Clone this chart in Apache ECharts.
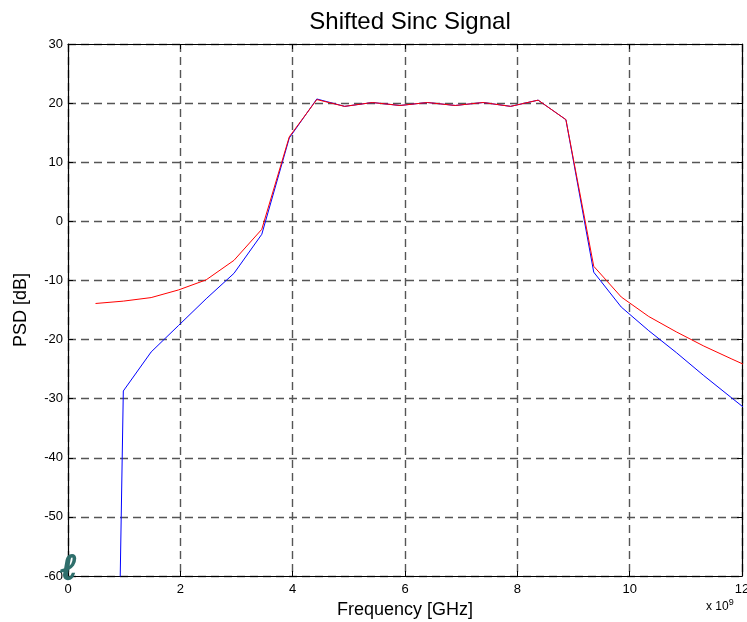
<!DOCTYPE html>
<html>
<head>
<meta charset="utf-8">
<script src="https://cdn.jsdelivr.net/npm/echarts@6/dist/echarts.min.js"></script>
<style>
  html, body { margin: 0; padding: 0; background: #fff; }
  #chart { width: 747px; height: 622px; }
</style>
</head>
<body>
<div id="chart"></div>
<script>
// frequency in units of 1e9 Hz
const freqs = [0.49, 0.985, 1.48, 1.97, 2.46, 2.955, 3.45, 3.94, 4.43, 4.925, 5.42, 5.91, 6.40,
  6.895, 7.39, 7.88, 8.37, 8.865, 9.36, 9.85, 10.34, 10.83, 11.32, 11.82, 12.31]

const redPsd = [-13.9, -13.5, -12.9, -11.6, -9.9, -6.6, -1.35, 14.3, 20.6, 19.45, 20.1, 19.6, 20.1,
  19.6, 20.1, 19.45, 20.5, 17.2, -7.6, -12.8, -16.1, -18.7, -21.1, -23.3, -25.4]

const bluePsd = [-310, -28.7, -22.1, -17.6, -13.1, -8.8, -2.2, 14.1, 20.7, 19.45, 20.1, 19.6, 20.1,
  19.6, 20.1, 19.45, 20.5, 17.2, -8.6, -14.5, -18.5, -22.2, -26.1, -29.9, -33.6]

const xTicks = [0, 2, 4, 6, 8, 10, 12]
const yTicks = [-60, -50, -40, -30, -20, -10, 0, 10, 20, 30]

const font = 'Liberation Sans, Arial, sans-serif'
const pair = (ys) => freqs.map((f, i) => [f, ys[i]])

const chart = echarts.init(document.getElementById('chart'))

const gridLine = { show: true, lineStyle: { color: '#555', width: 1.4, type: [8, 5] } }
const boxLine = { show: true, onZero: false, lineStyle: { color: '#000', width: 1.2 } }
const inTick = { show: true, inside: true, length: 5, lineStyle: { color: '#000' } }

const option = {
  animation: false,
  backgroundColor: '#fff',
  title: {
    text: 'Shifted Sinc Signal',
    left: 405,
    textAlign: 'center',
    top: 5,
    textStyle: { fontFamily: font, fontSize: 24, fontWeight: 'normal', color: '#000' }
  },
  grid: { left: 68, right: 5, top: 44, bottom: 46, outerBoundsMode: 'none' },
  xAxis: [
    {
      type: 'value',
      min: xTicks[0],
      max: xTicks[xTicks.length - 1],
      interval: 2,
      name: 'Frequency [GHz]',
      nameLocation: 'middle',
      nameGap: 24,
      nameTextStyle: { fontFamily: font, fontSize: 18, color: '#000' },
      axisLine: boxLine,
      axisTick: inTick,
      axisLabel: { fontFamily: font, fontSize: 13, color: '#000', margin: 7 },
      splitLine: gridLine
    },
    {
      type: 'value',
      position: 'top',
      min: xTicks[0],
      max: xTicks[xTicks.length - 1],
      interval: 2,
      axisLine: boxLine,
      axisTick: inTick,
      axisLabel: { show: false },
      splitLine: { show: false }
    }
  ],
  yAxis: [
    {
      type: 'value',
      min: yTicks[0],
      max: yTicks[yTicks.length - 1],
      interval: 10,
      name: 'PSD [dB]',
      nameLocation: 'middle',
      nameGap: 38,
      nameTextStyle: { fontFamily: font, fontSize: 18, color: '#000' },
      axisLine: boxLine,
      axisTick: inTick,
      axisLabel: { fontFamily: font, fontSize: 13, color: '#000', margin: 5 },
      splitLine: gridLine
    },
    {
      type: 'value',
      position: 'right',
      min: yTicks[0],
      max: yTicks[yTicks.length - 1],
      interval: 10,
      axisLine: boxLine,
      axisTick: inTick,
      axisLabel: { show: false },
      splitLine: { show: false }
    }
  ],
  series: [
    {
      type: 'line',
      data: pair(bluePsd),
      showSymbol: false,
      clip: true,
      lineStyle: { color: '#0000ff', width: 1 },
      z: 3
    },
    {
      type: 'line',
      data: pair(redPsd),
      showSymbol: false,
      clip: true,
      lineStyle: { color: '#ff0000', width: 1 },
      z: 4
    }
  ],
  graphic: [
    {
      type: 'text',
      left: 706,
      top: 598,
      style: {
        text: 'x 10{s|9}',
        font: '12px ' + font,
        fill: '#000',
        rich: { s: { fontSize: 9, fontFamily: font, verticalAlign: 'top', padding: [0, 0, 8, 0] } }
      }
    },
    {
      type: 'text',
      left: 60,
      top: 551,
      z: 10,
      style: {
        text: 'ℓ',
        font: 'italic bold 36px DejaVu Serif, serif',
        fill: '#2f6f6c',
        stroke: '#2f6f6c',
        lineWidth: 2
      }
    }
  ]
}

chart.setOption(option)
</script>
</body>
</html>
